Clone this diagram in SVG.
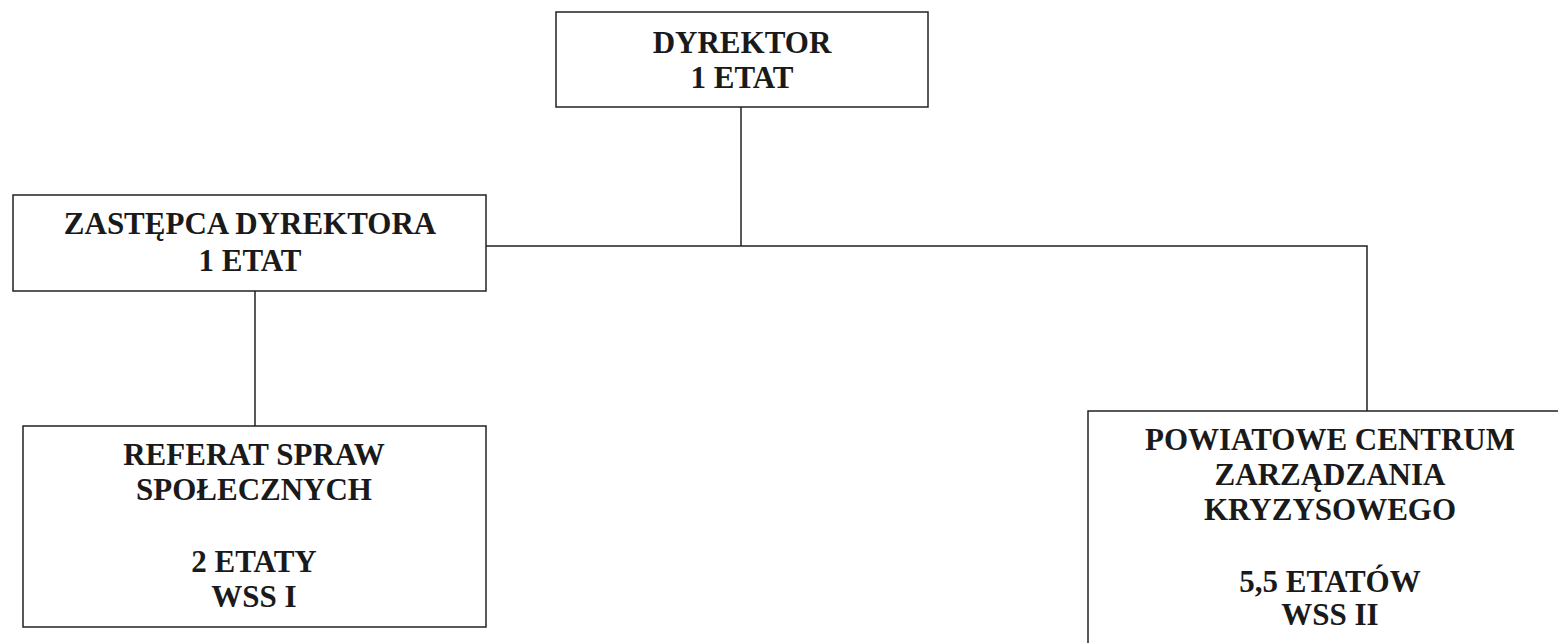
<svg xmlns="http://www.w3.org/2000/svg" width="1558" height="643" viewBox="0 0 1558 643">
<style>
.box{fill:#fff;stroke:#222;stroke-width:1.5}
.ln{fill:none;stroke:#222;stroke-width:1.5}
text{font-family:"Liberation Serif","Times New Roman",serif;font-weight:bold;font-size:31px;fill:#1a1a1a;text-anchor:middle}
</style>
<rect width="1558" height="643" fill="#fff"/>
<g id="connectors">
<path class="ln" d="M741 107 V246"/>
<path class="ln" d="M486 246 H1367 V411"/>
<path class="ln" d="M255 291 V426"/>
</g>
<g id="dyrektor">
<rect class="box" x="556" y="12" width="372" height="95"/>
<text x="742" y="53">DYREKTOR</text>
<text x="742" y="88">1 ETAT</text>
</g>
<g id="zastepca">
<rect class="box" x="13" y="195" width="473" height="96"/>
<text x="250" y="234">ZASTĘPCA DYREKTORA</text>
<text x="250" y="271">1 ETAT</text>
</g>
<g id="referat">
<rect class="box" x="23" y="426" width="463" height="201"/>
<text x="254" y="465">REFERAT SPRAW</text>
<text x="254" y="500">SPOŁECZNYCH</text>
<text x="254" y="572">2 ETATY</text>
<text x="254" y="607">WSS I</text>
</g>
<g id="pczk">
<rect class="box" x="1088" y="411" width="480" height="250"/>
<text x="1330" y="450">POWIATOWE CENTRUM</text>
<text x="1330" y="485">ZARZĄDZANIA</text>
<text x="1330" y="520">KRYZYSOWEGO</text>
<text x="1330" y="592">5,5 ETATÓW</text>
<text x="1330" y="625">WSS II</text>
</g>
</svg>
